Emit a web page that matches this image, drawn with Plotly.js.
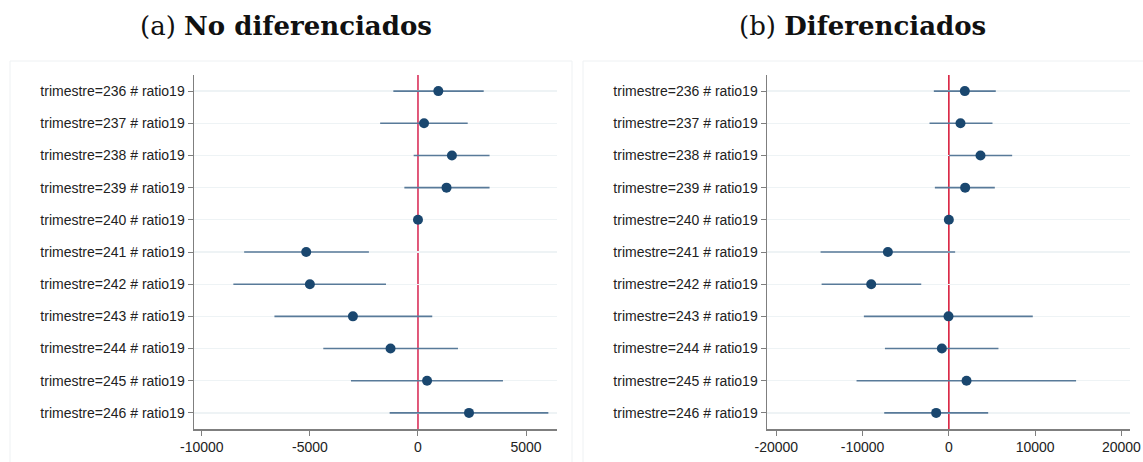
<!DOCTYPE html>
<html>
<head>
<meta charset="utf-8">
<script src="https://cdn.plot.ly/plotly-3.0.1.min.js"></script>
<style>html,body{margin:0;padding:0;background:#fff;}#chart{width:1143px;height:462px;}</style>
</head>
<body>
<div id="chart"></div>
<script>
const categories = ["trimestre=236 # ratio19","trimestre=237 # ratio19","trimestre=238 # ratio19","trimestre=239 # ratio19","trimestre=240 # ratio19","trimestre=241 # ratio19","trimestre=242 # ratio19","trimestre=243 # ratio19","trimestre=244 # ratio19","trimestre=245 # ratio19","trimestre=246 # ratio19"];

// (a) No diferenciados
const estA = [940, 280, 1570, 1320, 0, -5170, -5000, -3010, -1270, 420, 2360];
const loA  = [-1140, -1750, -200, -630, 0, -8040, -8540, -6640, -4380, -3100, -1310];
const hiA  = [3040, 2300, 3310, 3310, 0, -2270, -1480, 660, 1850, 3930, 6030];

// (b) Diferenciados
const estB = [1850, 1350, 3670, 1890, 0, -7070, -9000, -40, -810, 2050, -1470];
const loB  = [-1740, -2240, 40, -1620, 0, -14870, -14750, -9850, -7410, -10700, -7490];
const hiB  = [5440, 5060, 7340, 5330, 0, 730, -3200, 9730, 5750, 14750, 4560];

const xTicksA = [-10000, -5000, 0, 5000];
const xTickTextA = ["-10000", "-5000", "0", "5000"];
const xTicksB = [-20000, -10000, 0, 10000, 20000];
const xTickTextB = ["-20000", "-10000", "0", "10000", "20000"];

const navy = '#1a476f';
const ciColor = '#587a99';

function mk(est, lo, hi, xa, ya) {
  return {
    type: 'scatter', mode: 'markers',
    x: est, y: categories, xaxis: xa, yaxis: ya,
    marker: {color: navy, size: 10},
    error_x: {
      type: 'data', symmetric: false,
      array: hi.map((h, i) => h - est[i]),
      arrayminus: lo.map((l, i) => est[i] - l),
      color: ciColor, thickness: 1.6, width: 0
    },
    hoverinfo: 'x+y', showlegend: false, cliponaxis: false
  };
}

const H = 462, W = 1143;
const yDom = [1 - 429 / H, 1 - 75 / H];

const yCommon = {
  type: 'category', categoryorder: 'array', categoryarray: categories,
  range: [10.5, -0.5], domain: yDom,
  showgrid: true, gridcolor: '#eef3f5', gridwidth: 1.3,
  showline: true, linecolor: '#7f7f7f', linewidth: 1.5,
  ticks: 'outside', ticklen: 5, tickcolor: '#7f7f7f', tickwidth: 1,
  tickfont: {family: 'Liberation Sans, Arial, sans-serif', size: 14, color: '#222'},
  zeroline: false, fixedrange: true
};
const xCommon = {
  showgrid: false, zeroline: false,
  showline: true, linecolor: '#7f7f7f', linewidth: 1.5,
  ticks: 'outside', ticklen: 5, tickcolor: '#7f7f7f', tickwidth: 1,
  tickfont: {family: 'Liberation Sans, Arial, sans-serif', size: 14, color: '#222'},
  tickmode: 'array', fixedrange: true
};

const layout = {
  width: W, height: H,
  margin: {l: 0, r: 0, t: 0, b: 0},
  paper_bgcolor: '#fff', plot_bgcolor: '#fff',
  showlegend: false,
  xaxis: Object.assign({}, xCommon, {domain: [194 / W, 557 / W], range: [-10360, 6430], tickvals: xTicksA, ticktext: xTickTextA, anchor: 'y'}),
  yaxis: Object.assign({}, yCommon, {anchor: 'x'}),
  xaxis2: Object.assign({}, xCommon, {domain: [767 / W, 1130 / W], range: [-21080, 21000], tickvals: xTicksB, ticktext: xTickTextB, anchor: 'y2'}),
  yaxis2: Object.assign({}, yCommon, {anchor: 'x2'}),
  shapes: [
    {type: 'line', xref: 'x', yref: 'paper', x0: 0, x1: 0, y0: yDom[0], y1: yDom[1], line: {color: '#d9305a', width: 1.6}, layer: 'below'},
    {type: 'line', xref: 'x2', yref: 'paper', x0: 0, x1: 0, y0: yDom[0], y1: yDom[1], line: {color: '#d9203f', width: 1.6}, layer: 'below'},
    {type: 'rect', xref: 'paper', yref: 'paper', x0: 10 / W, x1: 572 / W, y0: -0.05, y1: 1 - 61 / H, line: {color: '#eef1f3', width: 1}, layer: 'below'},
    {type: 'rect', xref: 'paper', yref: 'paper', x0: 583 / W, x1: 1.05, y0: -0.05, y1: 1 - 61 / H, line: {color: '#eef1f3', width: 1}, layer: 'below'}
  ],
  annotations: [
    {xref: 'paper', yref: 'paper', x: 286 / W, y: 1 - 26 / H, xanchor: 'center', yanchor: 'middle', showarrow: false,
     text: '(a) <b>No diferenciados</b>', font: {family: 'DejaVu Serif, serif', size: 26, color: '#111'}},
    {xref: 'paper', yref: 'paper', x: 862 / W, y: 1 - 26 / H, xanchor: 'center', yanchor: 'middle', showarrow: false,
     text: '(b) <b>Diferenciados</b>', font: {family: 'DejaVu Serif, serif', size: 26, color: '#111'}}
  ]
};

Plotly.newPlot('chart', [mk(estA, loA, hiA, 'x', 'y'), mk(estB, loB, hiB, 'x2', 'y2')], layout, {displayModeBar: false, staticPlot: true});
</script>
</body>
</html>
